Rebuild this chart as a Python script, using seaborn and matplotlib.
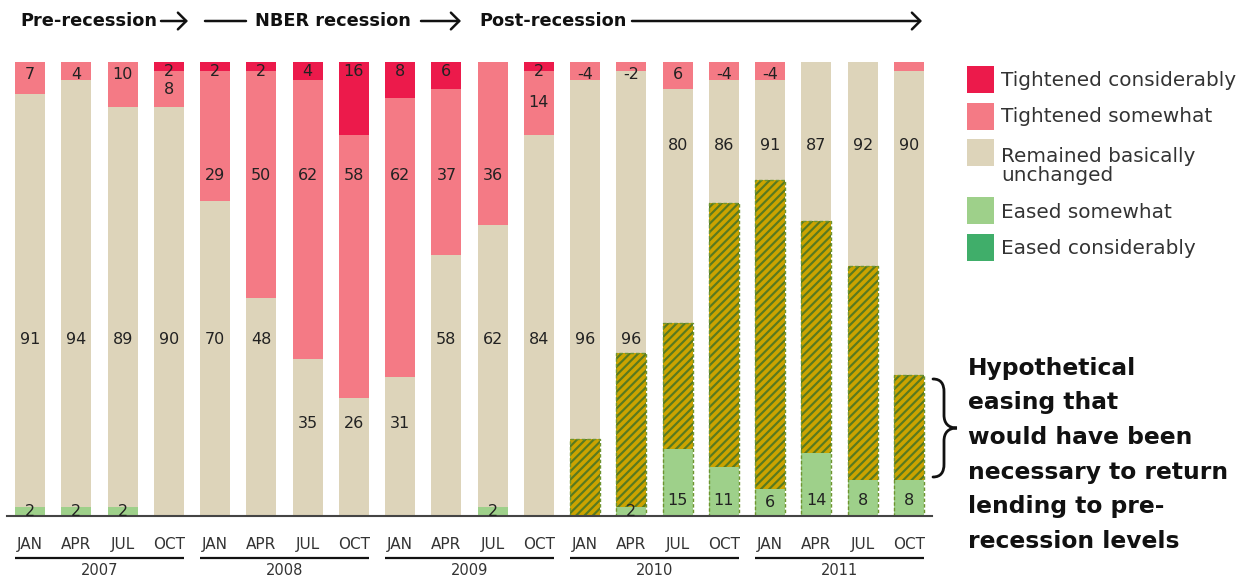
import numpy as np
import pandas as pd
import matplotlib
matplotlib.use("Agg")
import matplotlib.pyplot as plt
import seaborn as sns
from matplotlib.patches import Rectangle, PathPatch
from matplotlib.path import Path

# ---------------- data ----------------
years = ["2007", "2008", "2009", "2010", "2011"]
month_names = ["JAN", "APR", "JUL", "OCT"]
quarters = [f"{y} {m}" for y in years for m in month_names]
month_labels = month_names * len(years)

tight_cons = [None, None, None, 2, 2, 2, 4, 16, 8, 6, None, 2,
              None, None, None, None, None, None, None, None]
tight_some = [7, 4, 10, 8, 29, 50, 62, 58, 62, 37, 36, 14,
              -4, -2, 6, -4, -4, None, None, None]
unchanged = [91, 94, 89, 90, 70, 48, 35, 26, 31, 58, 62, 84,
             96, 96, 80, 86, 91, 87, 92, 90]
eased_some = [2, 2, 2, None, None, None, None, None, None, None, 2, None,
              None, 2, 15, 11, 6, 14, 8, 8]
eased_cons = [None] * 20
hypothetical = [None] * 12 + [17, 36, 42.5, 69, 74, 65, 55, 31]

series_names = ["Tightened considerably", "Tightened somewhat",
                "Remained basically\nunchanged", "Eased somewhat",
                "Eased considerably"]

# ---------------- styles ----------------
C_TC = "#EC1A4B"
C_TS = "#F47A85"
C_UN = "#DDD4BA"
C_ES = "#9ED08A"
C_EC = "#40AE6A"
GOLD = "#CBA300"
OLIVE = "#587A20"
DASH = "#6E9430"
TXT = "#222222"

sns.set_theme(style="white")
plt.rcParams["font.family"] = ["DejaVu Sans"]
plt.rcParams["hatch.linewidth"] = 1.55

FIG_W, FIG_H = 1256, 581
fig = plt.figure(figsize=(FIG_W / 100, FIG_H / 100), dpi=100)
ax = fig.add_axes([7 / FIG_W, 65 / FIG_H, 925 / FIG_W, 454 / FIG_H])


def fx(x):
    return x / FIG_W


def fy(y):
    return 1 - y / FIG_H


def arr(v):
    return np.array([np.nan if a is None else a for a in v], dtype=float)


tc, ts, un, es, ec, hy = map(arr, [tight_cons, tight_some, unchanged,
                                   eased_some, eased_cons, hypothetical])
total = np.nansum(np.abs(np.vstack([tc, ts, un, es, ec])), axis=0)
scale = 100.0 / np.maximum(100.0, total)


def norm(a):
    return np.nan_to_num(np.abs(a)) * scale


tc_n, ts_n, un_n, es_n, ec_n = map(norm, [tc, ts, un, es, ec])
top_ec = ec_n
top_es = ec_n + es_n
top_un = top_es + un_n
top_ts = 100.0 - tc_n
top_tc = np.where(tc_n > 0, 100.0, 0.0)
hy_h = np.nan_to_num(hy)

BAR_W = 0.65


def layer(heights, **kw):
    df = pd.DataFrame({"quarter": quarters, "pct": heights})
    df = df[df["pct"] > 0]
    sns.barplot(data=df, x="quarter", y="pct", order=quarters, width=BAR_W,
                saturation=1, errorbar=None, ax=ax, **kw)


layer(top_tc, color=C_TC, linewidth=0)
layer(top_ts, color=C_TS, linewidth=0)
layer(top_un, color=C_UN, linewidth=0)
layer(hy_h, color=GOLD, hatch="////", edgecolor=OLIVE, linewidth=0)
layer(top_es, color=C_ES, linewidth=0)
layer(top_ec, color=C_EC, linewidth=0)
layer(hy_h, fill=False, color=DASH, linewidth=1.0, linestyle=(0, (2.5, 1.5)))

ax.set_xlim(-0.5, len(quarters) - 0.5)
ax.set_ylim(0, 100)
ax.set_xlabel("")
ax.set_ylabel("")
ax.set_yticks([])
ax.set_xticks(range(len(quarters)))
ax.set_xticklabels(month_labels)
ax.tick_params(axis="x", length=0, pad=15, labelsize=11, labelcolor="#333333")
for s in ["top", "left", "right"]:
    ax.spines[s].set_visible(False)
ax.spines["bottom"].set_color("#444444")
ax.spines["bottom"].set_linewidth(1.5)

# year grouping
xt = ax.get_xaxis_transform()
for g, yr in enumerate(years):
    x0 = 4 * g - BAR_W / 2
    x1 = 4 * g + 3 + BAR_W / 2
    ax.plot([x0, x1], [-0.0925, -0.0925], transform=xt, clip_on=False,
            color="#111111", lw=1.6, solid_capstyle="butt")
    ax.text((x0 + x1) / 2, -0.121, yr, transform=xt, ha="center", va="center",
            fontsize=10.5, color="#333333")

# ---------------- value labels ----------------
ROW_TOP = 97.2
ROW_RED = 97.8
ROW_UPPER = 74.9
BEIGE_ROWS = {"mid": 38.8, "low": 20.3, "high": 81.5}
beige_row = ["mid"] * 6 + ["low"] * 3 + ["mid"] * 5 + ["high"] * 6


def lab(i, y, v):
    s = f"{int(v)}" if float(v).is_integer() else f"{v}"
    ax.text(i, y, s, ha="center", va="center", fontsize=11.5, color=TXT)


for i in range(len(quarters)):
    if not np.isnan(tc[i]):
        lab(i, ROW_RED, tc[i])
    if not np.isnan(ts[i]):
        if abs(ts[i]) >= 20:
            y = ROW_UPPER
        elif not np.isnan(tc[i]):
            y = (top_un[i] + top_ts[i]) / 2
        else:
            y = ROW_TOP
        lab(i, y, ts[i])
    lab(i, BEIGE_ROWS[beige_row[i]], un[i])
    if not np.isnan(es[i]):
        lab(i, min(3.5, es[i] / 2), es[i])

# ---------------- header ----------------
HY = 21
hdr = dict(fontsize=12.8, fontweight="bold", color="#111111", va="center", ha="left")
fig.text(fx(20), fy(HY), "Pre-recession", **hdr)
fig.text(fx(255), fy(HY), "NBER recession", **hdr)
fig.text(fx(479), fy(HY), "Post-recession", **hdr)


def arrow(x0, x1, head=True):
    style = "->,head_length=0.6,head_width=0.6" if head else "-"
    fig.add_artist(matplotlib.patches.FancyArrowPatch(
        (fx(x0), fy(HY)), (fx(x1), fy(HY)), transform=fig.transFigure,
        arrowstyle=style, mutation_scale=10, lw=1.8, color="#111111",
        shrinkA=0, shrinkB=0))


arrow(161, 188)
arrow(205, 246, head=False)
arrow(421, 461)
arrow(632, 922)

# ---------------- legend ----------------
leg_colors = [C_TC, C_TS, C_UN, C_ES, C_EC]
leg_sq_top = [66, 103, 139, 197, 234]
leg_txt_y = [80, 117, 166, 212, 249]
for c, t, name, ty in zip(leg_colors, leg_sq_top, series_names, leg_txt_y):
    fig.add_artist(Rectangle((fx(967), fy(t + 27)), 27 / FIG_W, 27 / FIG_H,
                             transform=fig.transFigure, color=c, lw=0))
    fig.text(fx(1001), fy(ty), name, fontsize=14.4, color="#333333",
             va="center", ha="left", linespacing=1.05)

# ---------------- annotation ----------------
ann_lines = ["Hypothetical", "easing that", "would have been",
             "necessary to return", "lending to pre-", "recession levels"]
ann_y = [368, 403, 437, 472, 507, 541]
for t, y in zip(ann_lines, ann_y):
    fig.text(fx(968), fy(y), t, fontsize=16.8, fontweight="bold",
             color="#111111", va="center", ha="left")

brace_pts = [(933, 379), (941, 379), (944, 384), (944, 392), (944, 415),
             (944, 423), (948, 428), (957, 428), (948, 428), (944, 433),
             (944, 441), (944, 464), (944, 472), (941, 477), (933, 477)]
codes = [Path.MOVETO, Path.CURVE4, Path.CURVE4, Path.CURVE4, Path.LINETO,
         Path.CURVE4, Path.CURVE4, Path.CURVE4, Path.CURVE4, Path.CURVE4,
         Path.CURVE4, Path.LINETO, Path.CURVE4, Path.CURVE4, Path.CURVE4]
bp = Path([(fx(x), fy(y)) for x, y in brace_pts], codes)
fig.add_artist(PathPatch(bp, transform=fig.transFigure, fill=False,
                         lw=2.0, color="#111111", capstyle="round"))

fig.savefig("out.png", dpi=100)
